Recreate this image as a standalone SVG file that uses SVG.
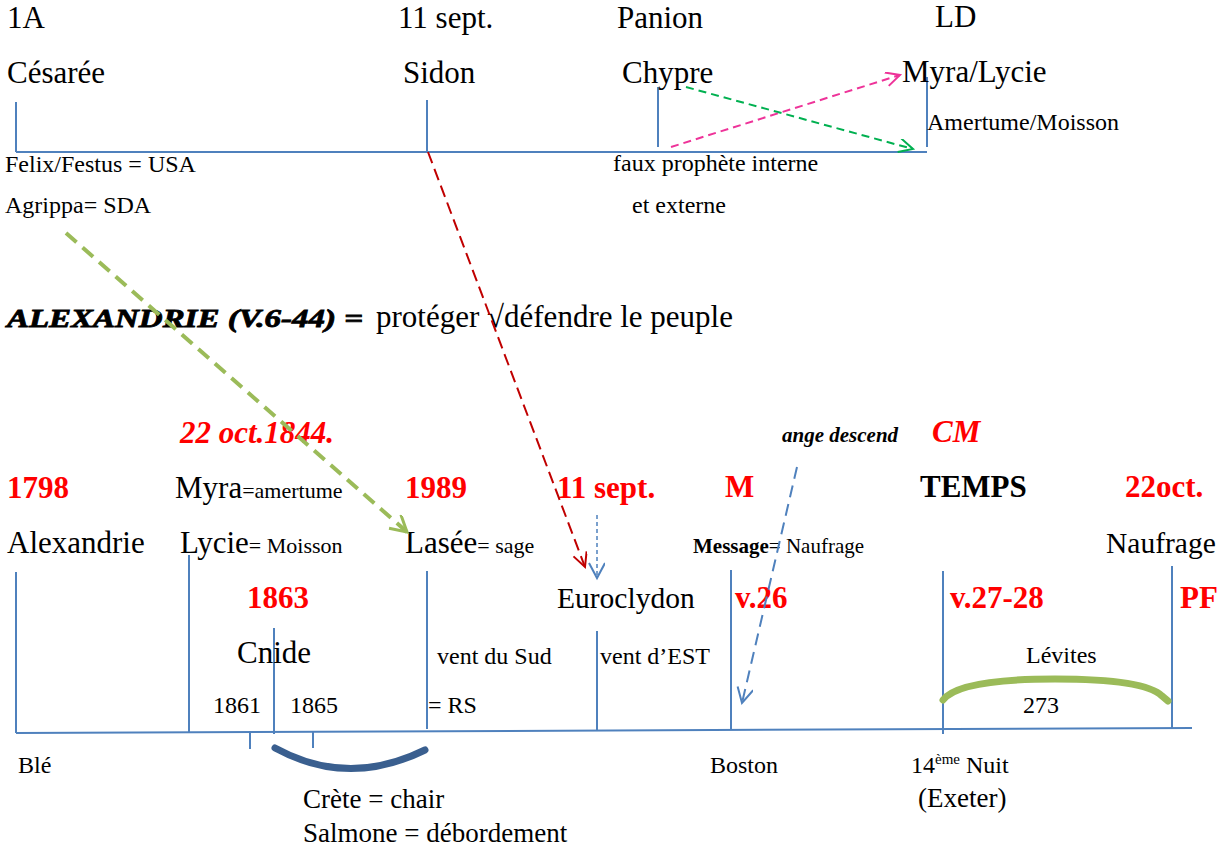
<svg xmlns="http://www.w3.org/2000/svg" width="1219" height="850" viewBox="0 0 1219 850">
<style>
text{font-family:"Liberation Serif","Times New Roman",serif}
.L{font-size:31px}
.S{font-size:24px}
.XS{font-size:22px}
.M{font-size:27px}
.R{font-size:31px;font-weight:bold;fill:#FF0000}
.RI{font-size:31px;font-weight:bold;font-style:italic;fill:#FF0000}
.B{font-weight:bold}
.ax{stroke:#4F81BD;stroke-width:2;fill:none}
</style>
<defs>
<marker id="mRed" markerUnits="userSpaceOnUse" markerWidth="20" markerHeight="20" refX="15" refY="7" orient="auto"><path d="M1,0 L15,7 L1,14" fill="none" stroke="#C00000" stroke-width="2"/></marker>
<marker id="mGreen" markerUnits="userSpaceOnUse" markerWidth="20" markerHeight="20" refX="15" refY="7" orient="auto"><path d="M1,0 L15,7 L1,14" fill="none" stroke="#00B050" stroke-width="2"/></marker>
<marker id="mPink" markerUnits="userSpaceOnUse" markerWidth="20" markerHeight="20" refX="15" refY="7" orient="auto"><path d="M1,0 L15,7 L1,14" fill="none" stroke="#EE3399" stroke-width="2"/></marker>
<marker id="mBlue" markerUnits="userSpaceOnUse" markerWidth="22" markerHeight="22" refX="16" refY="8" orient="auto"><path d="M1,0 L16,8 L1,16" fill="none" stroke="#4F81BD" stroke-width="2"/></marker>
<marker id="mOlive" markerUnits="userSpaceOnUse" markerWidth="24" markerHeight="24" refX="17" refY="9" orient="auto"><path d="M1,0 L17,9 L1,18" fill="none" stroke="#9BBB59" stroke-width="3"/></marker>
</defs>

<!-- top timeline axis -->
<g id="top-axis">
<path class="ax" d="M16,152 L927,152"/>
<path class="ax" d="M16,102 L16,152"/>
<path class="ax" d="M427,100 L427,152"/>
<path class="ax" d="M658,87 L658,147"/>
<path class="ax" d="M927,77 L927,147"/>
</g>

<g id="node-cesaree">
<text class="L" x="7" y="28">1A</text>
<text class="L" x="7" y="83">Césarée</text>
<text class="S" x="5" y="172">Felix/Festus = USA</text>
<text class="S" x="5" y="213">Agrippa= SDA</text>
</g>
<g id="node-sidon">
<text class="L" x="398" y="28">11 sept.</text>
<text class="L" x="403" y="83">Sidon</text>
</g>
<g id="node-chypre">
<text class="L" x="617" y="28">Panion</text>
<text class="L" x="622" y="83">Chypre</text>
<text class="S" x="613" y="171">faux prophète interne</text>
<text class="S" x="632" y="213">et externe</text>
</g>
<g id="node-myra-top">
<text class="L" x="935" y="27">LD</text>
<text class="L" x="902" y="82">Myra/Lycie</text>
<text class="S" x="927" y="130">Amertume/Moisson</text>
</g>

<g id="title">
<text x="7" y="327" font-family="'DejaVu Serif',serif" font-size="25" font-weight="900" font-style="italic" stroke="#000" stroke-width="0.8" textLength="356" lengthAdjust="spacingAndGlyphs">ALEXANDRIE (V.6-44) =</text>
<text class="L" x="376" y="327">protéger √défendre le peuple</text>
</g>

<!-- bottom timeline axis -->
<g id="bottom-axis">
<path class="ax" d="M16,733 L1192,728"/>
<path class="ax" d="M16,572 L16,733"/>
<path class="ax" d="M189,555 L189,732"/>
<path class="ax" d="M274,628 L274,734"/>
<path class="ax" d="M250,731 L250,749"/>
<path class="ax" d="M313,731 L313,748"/>
<path class="ax" d="M427,571 L427,729"/>
<path class="ax" d="M597,631 L597,731"/>
<path class="ax" d="M731,570 L731,730"/>
<path class="ax" d="M943,571 L943,734"/>
<path class="ax" d="M1172,566 L1172,729"/>
</g>

<g id="node-alexandrie">
<text class="R" x="7" y="498">1798</text>
<text class="L" x="7" y="553">Alexandrie</text>
<text class="S" x="18" y="773">Blé</text>
</g>
<g id="node-myra">
<text class="RI" x="180" y="443">22 oct.1844.</text>
<text class="L" x="175" y="498">Myra<tspan class="XS">=amertume</tspan></text>
<text class="L" x="180" y="553">Lycie<tspan class="XS">= Moisson</tspan></text>
</g>
<g id="node-cnide">
<text class="R" x="247" y="608">1863</text>
<text class="L" x="237" y="663">Cnide</text>
<text class="S" x="213" y="713">1861</text>
<text class="S" x="290" y="713">1865</text>
<text class="M" x="303" y="808">Crète = chair</text>
<text class="M" x="303" y="842">Salmone = débordement</text>
</g>
<g id="node-lasee">
<text class="R" x="405" y="498">1989</text>
<text class="L" x="405" y="553">Lasée<tspan class="XS">= sage</tspan></text>
<text class="S" x="437" y="664">vent du Sud</text>
<text class="S" x="428" y="713">= RS</text>
</g>
<g id="node-euroclydon">
<text class="R" x="557" y="498">11 sept.</text>
<text x="557" y="608" font-size="29.5">Euroclydon</text>
<text class="S" x="600" y="664">vent d’EST</text>
</g>
<g id="node-message">
<text x="782" y="442" font-size="21" font-weight="bold" font-style="italic">ange descend</text>
<text class="R" x="725" y="497">M</text>
<text x="693" y="553" font-size="21"><tspan class="B">Message</tspan>= Naufrage</text>
<text class="R" x="735" y="608">v.26</text>
<text class="S" x="710" y="773">Boston</text>
</g>
<g id="node-temps">
<text class="RI" x="932" y="442">CM</text>
<text x="920" y="497" font-size="31" font-weight="bold">TEMPS</text>
<text class="R" x="950" y="608">v.27-28</text>
<text class="S" x="1026" y="663">Lévites</text>
<text class="S" x="1023" y="713">273</text>
<text class="S" x="911" y="773">14<tspan font-size="15" dy="-9">ème</tspan><tspan dy="9"> Nuit</tspan></text>
<text class="M" x="918" y="807">(Exeter)</text>
</g>
<g id="node-naufrage">
<text class="R" x="1125" y="497">22oct.</text>
<text x="1106" y="553" font-size="29.5">Naufrage</text>
<text class="R" x="1180" y="608">PF</text>
</g>

<g id="connectors" fill="none">
<path d="M686,87 L913,149" stroke="#00B050" stroke-width="2" stroke-dasharray="8,5" marker-end="url(#mGreen)"/>
<path d="M671,147 L900,75" stroke="#EE3399" stroke-width="2" stroke-dasharray="8,5" marker-end="url(#mPink)"/>
<path d="M428,152 L585,567" stroke="#C00000" stroke-width="2" stroke-dasharray="12,6" marker-end="url(#mRed)"/>
<path d="M597,515 L597,578" stroke="#4F81BD" stroke-width="1.5" stroke-dasharray="4,3" marker-end="url(#mBlue)"/>
<path d="M797,467 L742,703" stroke="#4F81BD" stroke-width="2" stroke-dasharray="12,7" marker-end="url(#mBlue)"/>
<path d="M66,233 L407,532" stroke="#9BBB59" stroke-width="4" stroke-dasharray="14,8" marker-end="url(#mOlive)"/>
<path d="M275,748 Q348,788 425,750" stroke="#3A5F8F" stroke-width="7" stroke-linecap="round"/>
<path d="M943,700 C955,684 1000,679 1055,679 C1110,679 1150,684 1162,696 L1168,701" stroke="#9BBB59" stroke-width="7" stroke-linecap="round"/>
</g>
</svg>
